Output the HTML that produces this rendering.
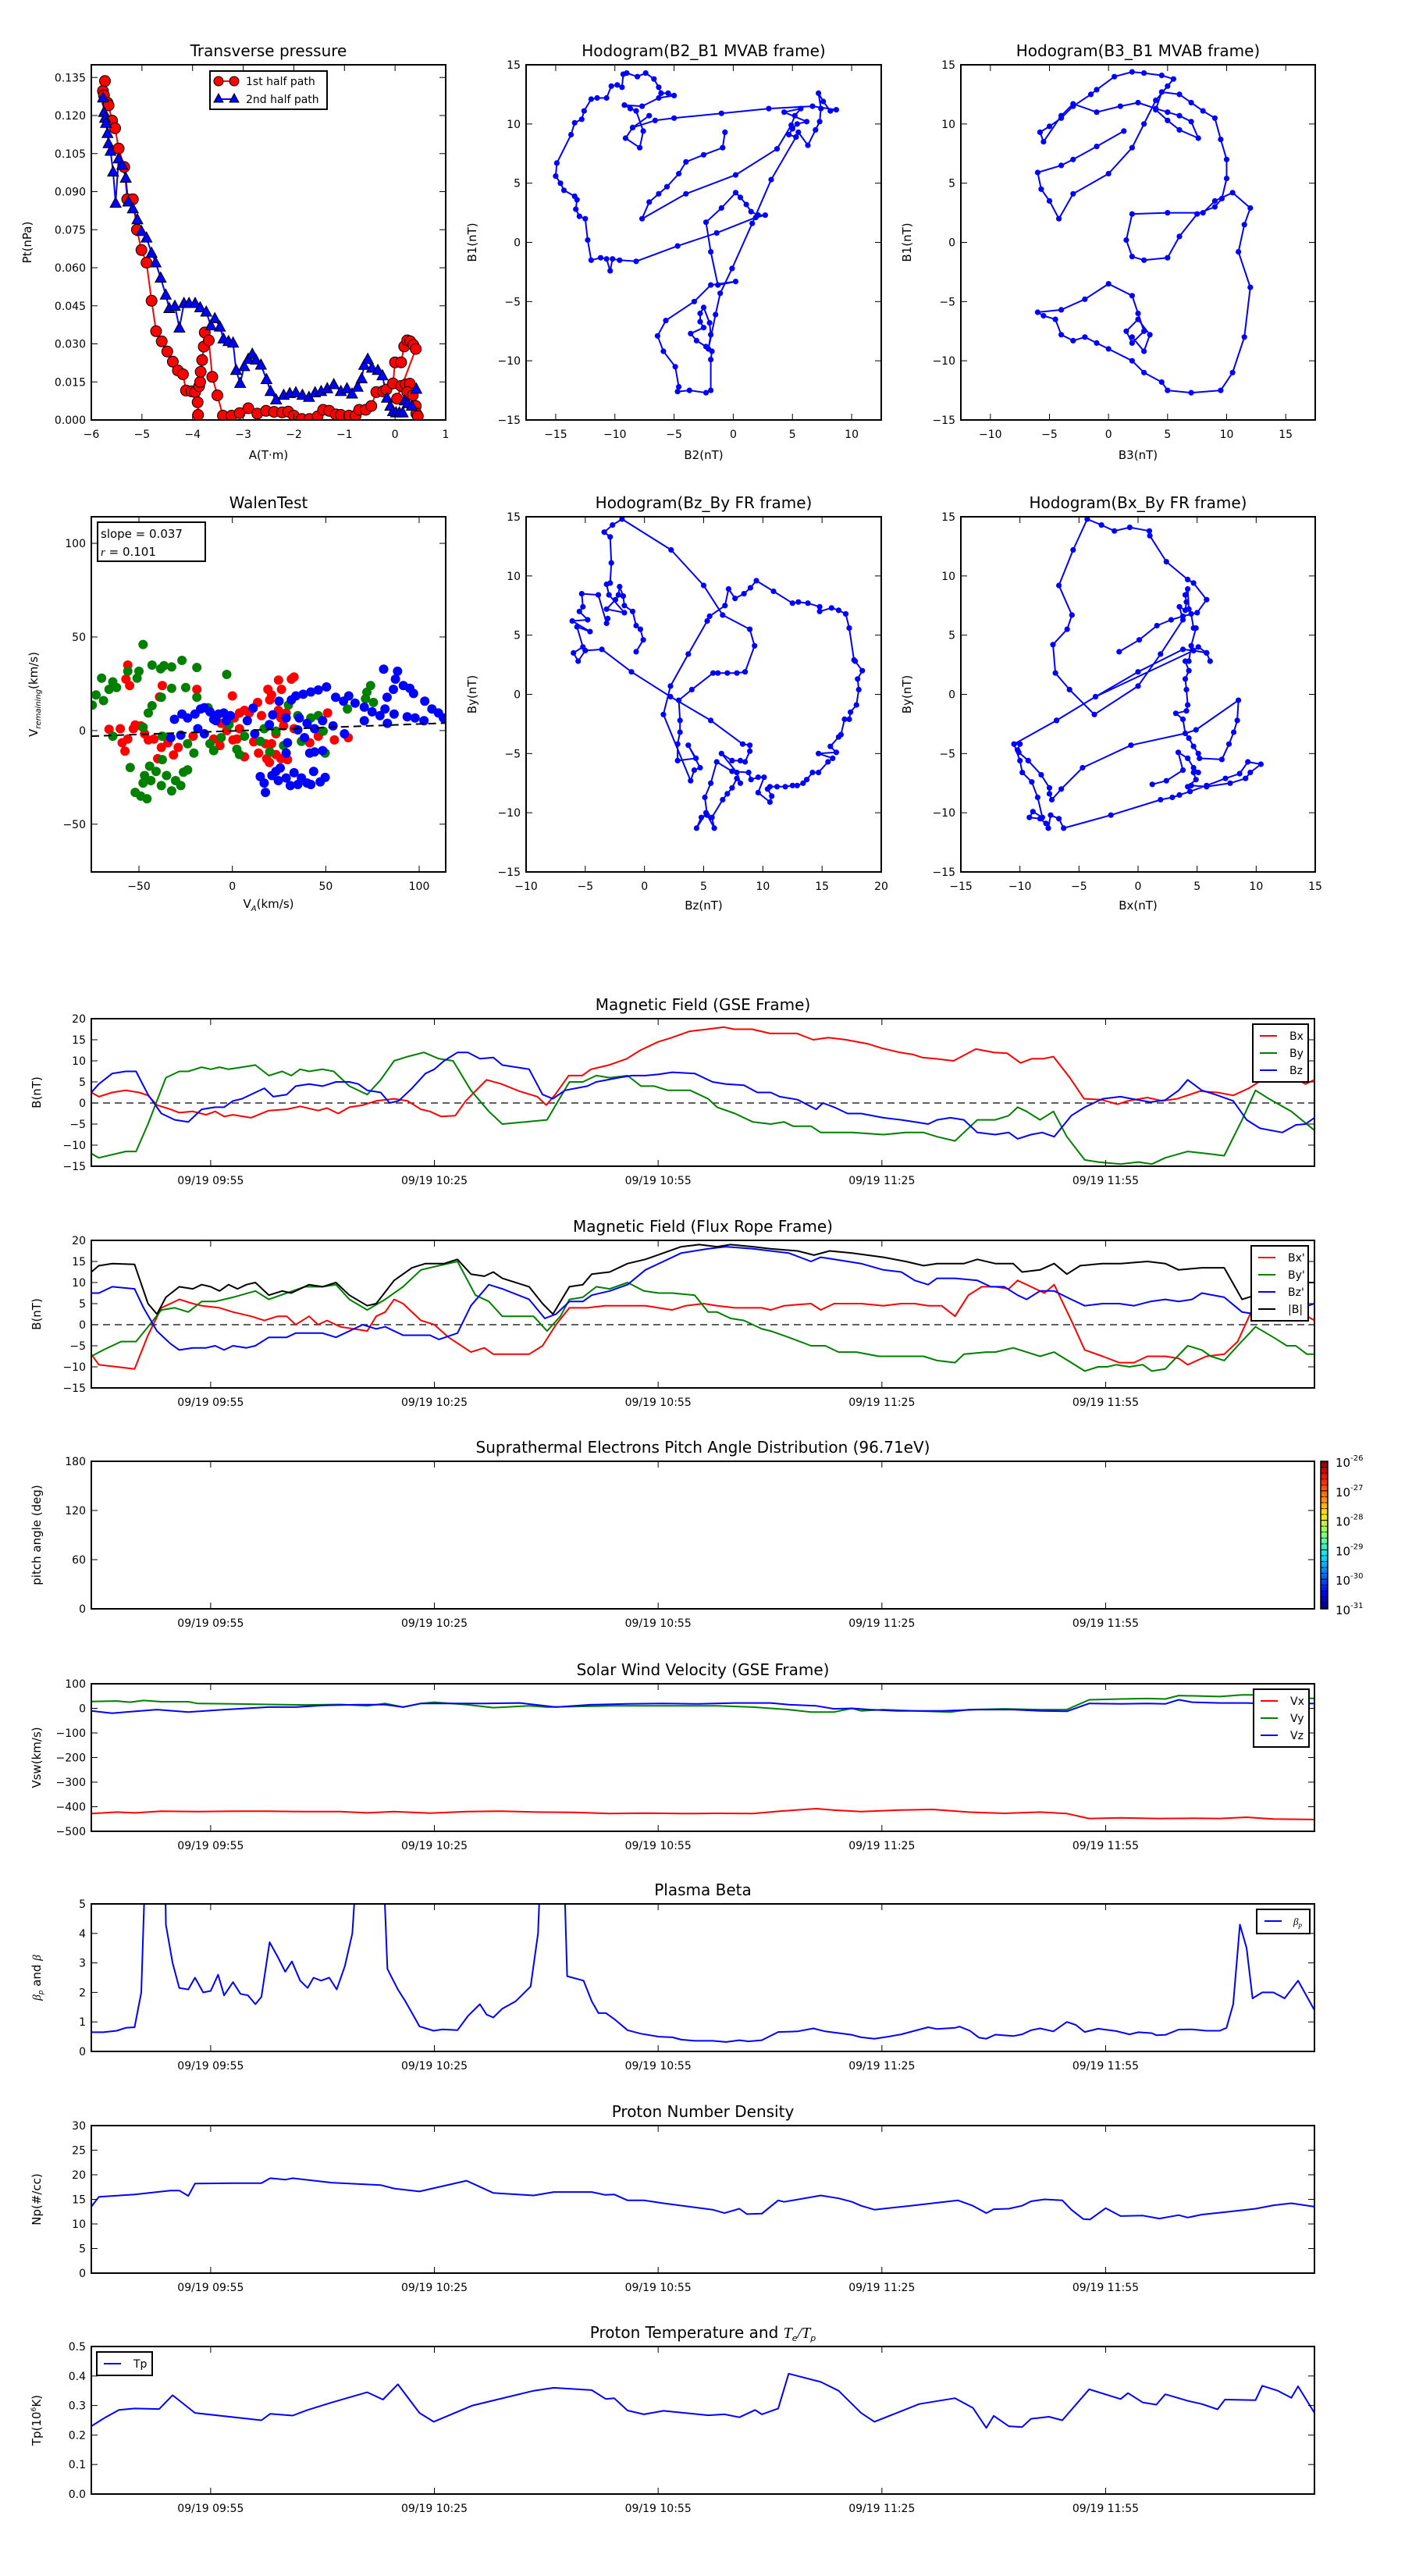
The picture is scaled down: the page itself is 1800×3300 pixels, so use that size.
<!DOCTYPE html>
<html><head><meta charset="utf-8"><title>Flux rope event summary</title>
<style>
html,body{margin:0;padding:0;background:#fff;}
svg{display:block;font-family:"DejaVu Sans","Liberation Sans",sans-serif;}
text{fill:#000;}
</style></head>
<body>
<svg id="chart" xmlns="http://www.w3.org/2000/svg" width="1800" height="3300" viewBox="0 0 1800 3300">
<defs id="defs">
<linearGradient id="jet" x1="0" y1="1" x2="0" y2="0">
<stop offset="0" stop-color="#00007f"/><stop offset="0.11" stop-color="#0000ff"/><stop offset="0.36" stop-color="#00e5ff"/><stop offset="0.5" stop-color="#7dff7a"/><stop offset="0.64" stop-color="#ffe600"/><stop offset="0.89" stop-color="#ff1400"/><stop offset="1" stop-color="#7f0000"/>
</linearGradient>
</defs>
<rect x="0" y="0" width="1800" height="3300" fill="#fff"/>
</svg>
<script>
// ---------------- DATA ----------------
const pt1A=[-5.77,-5.73,-5.75,-5.68,-5.66,-5.59,-5.53,-5.46,-5.35,-5.29,-5.18,-5.10,-5.01,-4.91,-4.81,-4.72,-4.61,-4.50,-4.39,-4.29,-4.19,-4.13,-4.02,-3.95,-3.90,-3.89,-3.87,-3.85,-3.84,-3.81,-3.78,-3.76,-3.68,-3.61,-3.51,-3.40,-3.23,-3.07,-2.90,-2.72,-2.55,-2.39,-2.23,-2.11,-2.00,-1.84,-1.69,-1.53,-1.42,-1.30,-1.17,-1.07,-0.91,-0.78,-0.71,-0.58,-0.47,-0.37,-0.24,-0.17,-0.04,0.00,0.12,0.18,0.24,0.30,0.36,0.41,0.04,0.12,0.21,0.29,0.24,0.35,0.41,0.42,0.45];
const pt1P=[0.1297,0.1336,0.128,0.125,0.124,0.118,0.115,0.107,0.0997,0.087,0.087,0.075,0.067,0.062,0.047,0.035,0.031,0.027,0.023,0.0195,0.018,0.0116,0.0113,0.011,0.007,0.002,0.0133,0.015,0.019,0.0236,0.0289,0.0345,0.0314,0.017,0.0097,0.0017,0.0017,0.0027,0.0046,0.0025,0.0036,0.0032,0.003,0.0033,0.0017,0.0004,0.0004,0.0014,0.004,0.0036,0.0022,0.002,0.0017,0.0017,0.004,0.004,0.0055,0.011,0.0113,0.012,0.0144,0.0227,0.0227,0.029,0.0314,0.031,0.0296,0.028,0.0084,0.0134,0.014,0.0143,0.011,0.0097,0.0055,0.0025,0.0015];
const pt2A=[-5.77,-5.75,-5.73,-5.71,-5.68,-5.66,-5.62,-5.57,-5.52,-5.46,-5.39,-5.32,-5.27,-5.18,-5.09,-5.01,-4.91,-4.81,-4.73,-4.63,-4.53,-4.46,-4.35,-4.26,-4.17,-4.07,-3.95,-3.85,-3.73,-3.64,-3.56,-3.46,-3.39,-3.29,-3.20,-3.14,-3.06,-2.98,-2.90,-2.82,-2.75,-2.65,-2.54,-2.46,-2.35,-2.20,-2.08,-1.96,-1.83,-1.70,-1.58,-1.46,-1.34,-1.21,-1.07,-0.95,-0.85,-0.74,-0.66,-0.61,-0.54,-0.455,-0.34,-0.25,-0.16,-0.095,-0.04,0.02,0.085,0.15,0.19,0.25,0.33,0.42];
const pt2P=[0.127,0.1213,0.119,0.117,0.113,0.109,0.106,0.0978,0.0855,0.103,0.1005,0.0954,0.086,0.0833,0.079,0.0744,0.0718,0.0658,0.062,0.056,0.0493,0.044,0.0449,0.0363,0.046,0.046,0.046,0.0443,0.0426,0.0372,0.04,0.0367,0.032,0.031,0.0304,0.0196,0.0145,0.0211,0.024,0.026,0.0237,0.0217,0.016,0.0113,0.008,0.0098,0.0105,0.0108,0.0098,0.009,0.0108,0.0113,0.0124,0.014,0.0113,0.0124,0.0103,0.013,0.0163,0.0216,0.024,0.0205,0.0196,0.0175,0.0087,0.0055,0.0034,0.0029,0.0029,0.0029,0.0076,0.0065,0.0055,0.0122];

const h1B2=[-0.7,-0.9,-2.5,-4.0,-4.6,-5.6,-6.3,-7.1,-7.7,-4.0,0.2,3.7,4.9,5.2,5.7,4.3,6.2,5.4,5.0,4.7,5.3,5.5,6.3,6.95,7.3,7.4,7.2,7.6,8.2,8.7,6.7,3.0,-1.0,-5.0,-6.6,-8.5,-7.1,-8.5,-9.1,-7.9,-7.6,-8.2,-8.7,-9.2,-7.7,-6.3,-5.0,-5.5,-6.1,-6.3,-6.7,-7.4,-8.1,-9.0,-9.3,-9.4,-9.8,-10.3,-10.7,-11.5,-12.0,-12.6,-12.8,-13.4,-13.7,-14.9,-15.0,-14.6,-14.3,-13.4,-13.2,-13.3,-13.0,-12.5,-12.3,-12.0,-11.2,-10.7,-10.4,-10.2,-9.6,-8.2,-4.7,-1.4,1.9,2.7,2.1,1.5,1.1,0.6,0.2,-1.0,-2.3,-1.9,-1.3,0.2,-1.9,-3.3,-5.7,-6.4,-5.9,-4.9,-4.6,-4.7,-3.7,-2.3,-1.9,-1.9,-1.8,-2.3,-3.1,-3.6,-2.5,-2.8,-2.8,-2.5,-2.0,-1.9,-2.1,-1.5,-1.1,-0.1,1.6,3.2,5.3];
const h1B1=[9.3,8.0,7.4,6.8,5.8,4.7,4.1,3.4,2.0,4.1,5.7,7.9,9.9,10.7,11.3,11.0,10.2,10.0,9.6,9.1,8.9,9.3,8.2,9.5,10.2,11.3,12.6,11.9,11.1,11.2,11.5,11.3,10.9,10.5,10.3,9.7,10.7,9.7,8.8,8.0,9.4,11.1,11.3,11.6,11.5,12.2,12.4,12.6,12.6,13.1,13.8,14.3,14.0,14.3,14.2,13.1,13.3,13.2,12.2,12.2,12.1,11.1,10.4,10.1,9.1,6.7,5.6,5.0,4.4,3.9,3.6,2.8,2.2,2.0,0.2,-1.5,-1.3,-1.4,-2.4,-1.4,-1.5,-1.6,-0.3,0.8,2.1,2.3,2.3,2.6,3.2,3.8,4.2,2.9,1.7,-0.8,-3.6,-3.3,-3.6,-5.0,-6.6,-7.9,-9.2,-10.5,-12.2,-12.6,-12.5,-12.7,-12.5,-9.9,-9.2,-8.8,-8.3,-7.7,-7.2,-6.7,-6.0,-5.5,-6.8,-7.8,-9.0,-6.1,-4.3,-2.2,1.6,5.3,8.9];

const h3B3=[1.3,-1.0,-3.0,-4.0,-6.0,-5.7,-5.0,-4.2,-3.0,0.0,2.0,3.0,4.0,5.0,5.5,4.5,3.0,2.0,0.5,-1.0,-1.5,-3.0,-4.0,-5.0,-5.8,-5.5,-4.0,-3.0,-1.0,1.0,2.5,4.0,5.0,6.0,7.0,7.6,6.0,5.0,4.0,4.5,6.0,7.0,8.0,9.0,9.5,10.0,10.0,9.6,9.0,7.5,6.0,5.0,3.0,2.0,1.5,2.0,5.0,8.0,9.0,10.5,12.0,11.5,11.0,12.0,11.5,10.5,9.5,7.0,5.0,4.5,3.0,2.0,0.0,-1.0,-2.0,-3.0,-4.0,-4.5,-5.5,-6.0,-4.0,-2.0,0.0,2.0,2.5,3.0,2.0,1.5,2.5,3.5,3.0,2.0];
const h3B1=[9.4,8.1,7.0,6.5,5.9,4.5,3.5,2.0,4.1,5.8,8.0,10.0,12.0,13.2,13.8,14.1,14.3,14.4,14.0,12.9,12.5,11.5,10.5,9.8,9.3,8.5,10.7,11.7,11.0,11.5,11.8,11.3,11.0,10.7,10.2,8.8,9.5,10.3,11.2,12.7,12.5,11.8,11.1,10.5,8.7,7.0,5.4,3.7,3.0,2.4,0.5,-1.3,-1.5,-1.2,0.2,2.4,2.5,2.5,3.5,4.2,2.9,1.5,-0.8,-3.8,-8.0,-11.0,-12.5,-12.7,-12.5,-11.8,-11.0,-10.0,-9.0,-8.5,-8.0,-8.3,-7.8,-6.5,-6.2,-5.9,-5.7,-4.8,-3.5,-4.5,-6.0,-7.5,-8.5,-7.5,-6.5,-7.8,-9.2,-8.0];

const walRedX=[-66,-60,-57.5,-59,-56,-53,-52,-49,-47,-45,-42,-40,-38,-39,-37.5,-56,-57,-55,-34.5,-31.5,-29,-21,-19,-10,-6.7,-3,0,0.3,1,3.8,6.5,9,11.4,13.5,14,15.6,17.7,19,20,21,24.7,26.3,24.6,26,27.4,23.3,21,18.4,19.8,23.3,26,29.5,31.6,33,28.8,33,41.4,46,51,54.6,62,6.5,3.8,2.4,-6];
const walRedY=[0.7,1,-11,-6.5,-4.5,1,3,2.5,-1.7,-5,-4.5,-15,-9,18,24,35,27.5,24,-6.5,-13,-9,-3,22,-4.5,-8,0,18.5,-5,6.7,9.4,10.8,9.4,-6,15,-12,8,-7,22,16.4,19,27,22,10.8,6.7,2.5,-1.7,-7,-15,-17,-12.8,-15,-15.5,27.5,28.6,9.4,1,-6.5,-3,9.4,-5,-3.8,-14,1,-4.5,3.9];
const walGreenX=[-75,-73,-70,-69,-66,-64,-62,-64,-56,-51,-50,-47.8,-43,-38.4,-36.6,-32.5,-27,-19,-3,-38,-32.5,-25,-19,-43,-45,-47.8,-37.5,-37.5,-54.7,-44.3,-47,-47.8,-52,-49,-45.7,-43.6,-40.8,-38,-35.2,-32.5,-30.4,-27.6,-26.2,-24,-20.6,-24,-13,-12,-10,-6,-1.8,2.4,3.8,6.5,15,17,20,23.3,27.4,30,35,37,42,46,48.6,49.7,61.6,71.3,74,72,75.5];
const walGreenY=[13.6,19,28,16,22,26,23,-3,31.7,28,31.7,46,35,33,34.7,34,37.5,33.7,30,17.8,22.6,23,17.8,13.3,9.4,1.8,-3,-15.5,-19.7,-19,-24,-28,-33,-35,-36.4,-26.7,-21.8,-29.4,-24,-32.2,-26.7,-29.4,-22.2,-21,-12,-7,12.2,-7,-10.7,-3.8,3.2,-10,-12.8,-3,-5.8,1,-11.4,-0.3,-8,13.6,8,-5.8,6.7,8,-0.3,-12,11.5,17,24,20.5,15];
const walBlueX=[-33,-31,-27.6,-27,-24,-20,-17,-15,-15,-18.5,-12,-10,-7.4,-4.6,-1.1,-3.2,-8.8,8,11.1,12,19.8,21.6,25,28.8,29.5,28.8,31.6,34,37.9,42,46,50.4,55.3,59.5,62.3,65.7,70.6,74.8,79,83,81,82.8,81.7,86.6,86.2,87.3,88.4,91.5,95,97,93.6,97.8,102.6,103,106.8,110.3,113,70.6,35.8,40,44,48.3,53.9,60,35,38.6,41.4,44,48.3,14.9,17,17.7,21.2,23.3,25.6,24.6,28.8,31,33,35,37,40,42,43.5,47,49.7];
const walBlueY=[-3.8,6,-2.4,8.8,6.7,8.8,11.5,12.2,-1.7,1,10,6,8.8,9.4,8,5.3,5.3,5.3,12,-1.7,3.2,8.4,15.7,6.7,-6.5,-12,16.4,18.5,19.4,20.6,21.7,23.3,17.8,15.7,18.5,14.7,12.5,10,8,3.9,32.8,17.8,11.5,8.8,22,27.5,31.7,24,22.6,19.8,7.4,6.7,5.3,15.7,11.5,9.4,6.7,5.3,6.7,3.9,1,5.3,2.5,-1.7,0.4,-3.8,-12,-11.4,-10.7,-24.6,-28,-33,-24,-21.8,-20,-26.7,-25.3,-29.4,-22.5,-28.8,-25.3,-28,-28.8,-21.8,-27.4,-25];
const walSlope=0.037, walIntercept=-0.2, walR=0.101;

const hzBz=[-0.7,-0.1,-0.35,-0.7,-1.0,-1.7,-1.8,-2.1,-2.2,-2.45,-3.2,-1.7,-3.0,-3.2,-2.9,-2.8,-2.9,-3.4,-2.7,-1.9,2.25,5,6.6,8.9,9.3,8.5,7.8,7.0,6.2,5.8,4.0,2.9,3.0,3.0,2.8,2.8,4.35,3.7,4.7,4.2,3.9,1.6,2.2,3.7,5.3,5.5,6.8,7.1,7.65,8.4,8.95,9.45,10.9,12.5,13.0,13.8,14.8,14.8,15.8,16.4,17.0,17.3,17.7,17.8,18.4,18.0,18.1,17.9,17.4,17.3,16.9,16.6,16.4,15.7,16.2,14.7,15.9,15.5,14.7,14.2,13.7,13.4,12.9,12.5,11.9,11.2,10.6,10.4,10.75,10.6,9.6,10.1,9.6,9.0,8.8,7.4,6.1,5.6,5.1,5.3,4.8,4.4,5.2,5.9,5.7,6.6,7.0,7.4,7.8,8.1,7.8,6.5,7.4,8.1,8.5,8.9,8.9,8.3,5.6,2.2,-1.1,-3.6,-5.0,-5.6,-6.0,-5.2,-5.7,-4.6,-6.1,-4.8,-5.5,-5.2,-5.3,-3.9,-3.2,-3.1];
const hzBy=[3.6,4.6,5.5,5.8,7.0,7.5,8.3,9.1,8.4,8.0,7.2,6.9,8.4,9.3,9.4,11.1,13.3,13.7,14.3,14.8,12.2,9.2,6.7,5.5,4.1,1.9,1.8,1.8,1.8,1.8,0.4,-0.5,-2.2,-3.2,-4.2,-5.6,-5.4,-4.3,-6.2,-6.4,-7.3,-1.7,0.7,3.4,6.2,6.6,7.5,8.9,8.1,8.5,9.0,9.6,8.7,7.7,7.8,7.7,7.4,7.0,7.3,7.1,6.8,5.6,2.9,2.8,2.0,1.3,0.4,-0.9,-1.5,-2.1,-2.1,-3.4,-3.6,-4.4,-4.9,-5.0,-5.4,-5.7,-6.6,-6.6,-7.2,-7.5,-7.7,-7.7,-7.8,-7.8,-7.8,-8.0,-8.6,-9.1,-8.3,-7.0,-7.0,-7.2,-6.6,-6.5,-5.7,-7.5,-8.7,-10.2,-10.4,-11.3,-10.0,-11.3,-10.4,-8.9,-8.4,-7.9,-7.1,-7.5,-6.6,-5.0,-5.6,-5.6,-5.7,-4.8,-4.3,-4.2,-2.2,-0.2,1.9,3.8,3.7,2.8,3.5,4.0,5.7,5.3,6.2,6.3,7.0,7.4,8.5,8.4,6.0,6.4];

const hxBx=[-1.6,0.1,1.6,2.8,3.8,5.0,5.8,4.7,4.2,2.4,1.0,0.96,-0.7,-2.0,-3.1,-4.3,-5.5,-6.7,-5.6,-6.0,-7.2,-7.0,-5.8,-3.7,0.0,1.9,3.8,3.5,4.0,4.1,4.0,4.2,4.3,4.5,4.7,4.9,4.5,4.3,4.0,4.3,4.0,4.1,4.2,4.1,3.2,3.8,4.0,4.3,4.7,5.1,5.2,7.1,7.7,8.1,8.4,8.5,4.9,4.0,-0.6,-4.7,-6.5,-7.3,-7.5,-7.5,-8.2,-9.3,-10.1,-10.2,-10.0,-10.5,-6.9,-3.6,0.0,3.8,4.7,5.1,5.8,6.1,5.8,4.7,-3.6,-6.9,-10.5,-10.0,-9.8,-9.0,-8.5,-8.1,-8.9,-9.2,-8.3,-7.8,-7.6,-7.4,-6.7,-6.3,-2.3,1.9,2.9,3.5,4.4,5.8,7.4,8.6,9.3,10.4,9.5,9.1,7.8,5.8,4.5,4.2,4.9,4.7,5.1,4.7,4.2,3.4,3.8,2.4,1.2];
const hxBy=[3.6,4.6,5.8,6.3,6.6,6.9,8.0,9.4,9.7,11.2,13.4,13.8,14.1,13.8,14.3,14.8,12.2,9.2,6.7,5.5,4.2,1.8,0.4,-1.7,0.7,3.4,6.3,7.4,7.1,7.8,8.4,8.9,7.2,6.8,5.6,5.6,4.1,2.8,2.8,2.0,1.3,0.4,-0.9,-1.4,-1.6,-2.1,-3.3,-3.7,-4.4,-5.0,-5.4,-5.5,-4.2,-3.2,-2.2,-0.5,-3.0,-3.3,-4.3,-6.2,-8.0,-8.9,-8.4,-7.9,-6.8,-5.6,-4.9,-4.7,-4.2,-4.2,-2.2,-0.2,1.9,3.8,3.7,4.0,3.5,2.8,3.5,3.7,-0.2,-2.2,-4.2,-5.6,-6.6,-7.4,-8.7,-10.4,-9.9,-10.4,-10.5,-10.9,-11.3,-10.2,-10.5,-11.3,-10.2,-8.9,-8.7,-8.5,-8.2,-7.7,-7.1,-6.7,-5.7,-5.9,-6.6,-7.1,-7.5,-7.8,-7.7,-7.8,-7.2,-6.6,-6.6,-6.2,-5.4,-4.9,-6.4,-7.3,-7.6];

const tLabels=['09/19 09:55','09/19 10:25','09/19 10:55','09/19 11:25','09/19 11:55'];
const tTicks=[16,46,76,106,136];

const gseBxT=[0,1,2.8,4.6,6.4,7.6,8.8,10.6,11.8,13.6,15.4,16.6,17.8,19,21.4,23.8,26.2,28,30.4,31.6,33.1,34.6,36.4,38.2,40.6,42.4,44.2,45.4,46.9,48.8,50.2,53,55,57.4,59.8,61,62.2,64,65.8,67,69.4,71.8,73.6,76,77.8,80.2,82.6,84.8,86.2,88.6,91,94.6,96.8,98.8,101.2,104.2,106,108.4,110.2,111.4,113.2,115.6,118.6,121,122.8,124.6,126.1,127.6,129,131.2,133.1,135.4,137.6,139,141.6,143.6,145.6,148.6,151,153.1,155.2,157,159.2,161.2,162.8,164];
const gseBxV=[2.5,1.5,2.5,3,2.5,1.8,-0.5,-1.5,-2.3,-2,-2.8,-2,-3.2,-2.8,-3.5,-1.8,-1.5,-0.8,-1.8,-1.2,-2.5,-1,-0.5,0.5,1,0.5,-1.5,-2,-3.2,-3,0.5,5.5,4.5,2.8,1.5,-0.5,2,6.5,6.5,8,9,10.5,12.5,14.5,15.5,17,17.5,18,17.5,17.5,16.5,16.5,15,15.5,15,14,13,12,11.5,10.8,10.5,10,12.8,12,11.8,9.5,10.5,10.5,11,6,1,0.8,-0.3,0.5,1.3,0.5,1,2.8,2.5,1.8,3.5,5.5,6,6,4.5,5.5];
const gseByT=[0,1,4.6,6,7.6,10,11.8,13,14.8,16,17.2,18.4,20.2,22,23.8,25.6,26.8,28,29.2,31,32.5,34.6,37,38.8,40.6,42.4,44.6,46.6,48.5,50.9,53.3,55.1,61.1,64.1,65.9,67.7,69.5,71.9,73.7,75.5,77.3,80.3,82.7,83.9,86.3,88.7,91.1,92.9,94.1,96.5,97.8,102,106.2,109.2,111.6,113.4,115.8,117,118.8,121.2,123,124.2,125.4,127.2,129,130.8,133.2,135,138,140.4,142.2,144,147,149.5,151.9,154.3,156.1,157.9,160.9,164];
const gseByV=[-12,-13,-11.5,-11.5,-5,6,7.5,7.5,8.5,8,8.5,8,8.5,9,6.5,7.5,6.5,8,7.5,8,7.5,4,2,5.5,10,11,12,10.5,10,3,-2,-5,-4,5,5,6.5,6,6.5,4,4,3,3,1,-1,-2.5,-4.5,-5,-4.5,-5.5,-5.5,-7,-7,-7.5,-7,-7,-8,-9,-7,-4,-4,-3,-1,-2,-4,-2,-8,-13.5,-14,-14.5,-14,-14.5,-13,-11.5,-12,-12.5,-4,3,1,-2,-6.5];
const gseBzT=[0,1,2.8,4.6,6,7.6,9.4,11.2,13,14.8,16.6,17.8,19,20.2,22,23.2,24.4,26.2,27.4,29.2,31,32.8,34.6,35.8,37,38.8,40,41.2,43,44.8,46,47.3,49.1,50.5,52.1,53.9,55.1,58.7,60.5,61.9,63.5,66.5,67.7,70.7,72.5,74.3,76.1,77.9,80.9,83.3,85.1,87.5,89.3,91.1,92.3,94.7,97.2,98.1,99.6,101.4,103.2,106.2,108.6,110.4,112.2,113.4,115.2,117,118.8,121.2,123,124.2,126,127.5,129.1,131.4,133.2,135.6,138,139.5,142,144,145.8,147,148.9,150.7,153.1,154.9,156.7,159.7,161.5,162.8,164];
const gseBzV=[2.5,4.5,7,7.5,7.5,2,-2.5,-4,-4.5,-1.5,-1,-1,0.5,1,2.5,3.5,1.5,2,4,4.5,4,5,5,4.5,3,2.5,0,0.5,3.5,7,8,10,12,12,10.5,10.8,9,8,2,1,3,4,5,6,6.5,6.5,6.8,7.3,7,5,4.5,4.2,2.5,2.5,1.5,0.8,-1.5,0,-1,-2.5,-2.5,-3.5,-4,-4.5,-5,-4,-3.5,-4,-7,-7.5,-7,-8.5,-7.5,-7,-8,-3,-1,1,1.5,1,0.2,0.7,3,5.5,3,2,0.5,-4,-6,-7,-5.2,-5,-3.5];

const frBmT=[0,1,2.8,5.8,7.6,8.8,10,11.8,13.6,14.8,16,17.2,18.4,19.6,20.8,22,23.8,25.6,26.8,29.2,31,32.8,34.6,37,38.2,40.6,43,44.8,47.3,49.1,50.9,52.7,53.9,55.1,58.7,60.5,61.9,64.1,65.9,67.1,69.5,71.9,74.3,76.7,79.1,81.5,83.9,85.7,88.7,91.1,94.7,96.9,99,102,106.2,109.2,111.6,113.4,117,118.8,121.2,123.6,124.8,127.2,129.1,130.8,132.6,135.6,138,141.6,144,145.8,148.9,151.9,154.3,156.1,158.5,161.5,163,164];
const frBmV=[12.5,14,14.5,14.3,5,2.5,6.5,9,8.5,9.5,9,8,9.5,8.5,9.5,10,7,8,7.5,9.5,9,10,7,4.5,5,10.5,13.5,14.5,14.5,15.5,12,11.5,12.5,11,9,5,2.5,9,9.5,12,12.5,14.5,15.5,17,18.5,19,18.5,19,18.5,18,17.5,16.5,17.5,17,16,15,14,14.5,14.5,15.5,14.5,14.5,12.5,13,14.5,12,14,14.5,14.5,15,14.5,13,13.5,13.5,6,7,8,9,10,10];
const frBxT=[0,1,3.4,5.8,7.6,9.4,11.8,13.6,14.8,17.2,19,21.4,23.2,25,26.2,27.4,29.2,30.4,31.6,33.4,35.2,37,38.2,39.4,40.6,41.8,44.2,46,47.9,50.9,52.7,53.9,58.7,60.5,62.3,64.1,66.5,68.9,71.9,74.3,77.9,79.7,82.1,83.9,86.3,89.9,91.1,92.9,96.5,97.8,99.6,103.2,106.2,108.6,110.4,112.2,114,115.8,117.6,119.4,121.2,123,124.2,126,127.8,129.1,131.4,133.2,135.6,137.8,139.8,141.6,144,145.8,147,149.5,151.9,153.7,155.5,157.3,159.7,162.1,164];
const frBxV=[-7,-9.5,-10,-10.5,-2.5,4,6,5,4.5,4,3,2,1,2,2,0,2,0,1,-0.5,-1,-1.5,2,3,6,5,1,0,-3,-6.5,-5.5,-7,-7,-5,0,4,4,4.5,4.5,4.5,3.5,4.5,5,4.5,4,4,3.5,4.5,5,3.5,5,5,4.5,5,5,4.5,4.5,2,7,9,9,8.5,10.5,9,7.5,9.5,1,-6,-7.5,-9,-9,-7.5,-7.5,-8,-9.5,-7.5,-7,-4,3,7,5.5,3,1];
const frByT=[0,1.6,4,6,7.6,9.4,11.2,13,14.8,16.6,19,22,23.8,26.2,28.6,31,32.8,34.6,37,39.4,41.8,44.2,46.6,49.1,51.5,53.3,55.1,59.3,61.1,62.9,64.1,65.9,67.7,69.5,71.9,74.1,76.1,77.9,80.9,82.7,83.9,85.7,87.5,89.9,91.1,93.5,96.5,98.4,100.2,102.6,105.6,109.2,111.6,113.4,115.8,117,120,121.2,123.6,125.4,127.2,129.1,131.4,133.2,135,136.2,137.4,139.2,141,142.2,144,147,148.9,150.1,151.9,153.7,156.1,158.5,160.3,161.5,163,164];
const frByV=[-7.5,-6,-4,-4,-0.5,3.5,4,3,5.5,5.5,6.5,8,6,7.5,9,9,9.5,6,3.5,6,9,13,14,15,7,5.5,2,2,-1.5,2,6,6.5,9,8.5,10,8,7.5,7.5,7,3,3,1.5,1,-1,-1.5,-3,-5,-5,-6.5,-6.5,-7.5,-7.5,-7.5,-8.5,-9,-7,-6.5,-6.5,-5.5,-6.5,-7.5,-6.5,-9,-11,-10,-10,-9.5,-10,-9.5,-11,-10.5,-5,-6,-7.5,-8.5,-5,-0.5,-3,-5,-5,-7,-7];
const frBzT=[0,1,2.8,5.8,7,8.8,10.6,11.8,13.6,15.4,16.6,17.8,19,20.8,22,23.8,26.2,27.4,31,32.8,34.6,36.4,38.2,39.4,41.8,44.2,45.4,46.6,49.1,50.9,53.3,55.1,58.7,60.8,62.3,64.1,65.9,67.1,69.5,71.9,74.3,76.7,79.1,82.7,85.1,88.7,91.1,93.5,96.5,97.8,99.6,103.2,106.2,108.6,110.4,112.2,113.4,115.8,118.8,120.6,122.4,124.2,125.4,127.2,129.1,131.4,133.2,135.6,137.8,139.8,142,144,145.8,147.6,148.9,151.9,154.3,156.1,158.5,161.5,164];
const frBzV=[7.5,7.5,9,8.5,4,-1.5,-4.5,-6,-5.5,-5.5,-5,-6,-5,-5.5,-5,-3,-3,-2,-2,-3,-1.5,0,-1,-0.5,-2.5,-2.5,-2.5,-3.5,-2,4.5,9.5,8.5,6,1.5,2.5,5.5,5.5,7,8,9.5,13,15,17,18,18.5,18,17.5,17,15,16,15.5,14.5,13,12.5,10.5,9.5,11,11,10.5,9,9,7,6,8,8,6,4.5,5,5,4.5,5.5,6,5.5,6,7.5,6.5,3,2.5,2,3.5,5];

const vxT=[0,3.4,5.8,9.4,14.2,19,23.8,28.6,33.4,37,40.6,45.4,50.3,55.1,59.9,64.7,69.5,74.3,79.1,83.9,88.7,92.3,97.2,99.6,103.2,108,112.8,117.6,122.4,127.2,130.8,133.8,138,142.8,147.6,151.3,154.9,158.5,164];
const vxV=[-428,-422,-425,-418,-420,-418,-418,-420,-420,-425,-420,-426,-420,-418,-422,-423,-428,-426,-428,-427,-428,-418,-408,-414,-420,-414,-411,-422,-427,-422,-428,-448,-445,-448,-447,-448,-443,-450,-452];
const vyT=[0,3.4,5.2,7,9.4,13,14.2,19,23.8,28.6,33.4,37,39.4,41.8,44.2,46,50.3,53.9,58.7,61.1,65.9,69.5,74.3,79.1,83.9,88.7,93.5,96.5,99.6,102,103.2,106.2,110.4,115.2,117.6,122.4,127.2,130.8,133.8,138,141.6,144,145.8,148.9,151.3,154.3,157.3,160.9,164];
const vyV=[28,30,25,32,27,27,20,18,16,14,16,10,20,5,20,25,15,3,10,5,8,10,10,10,10,5,-5,-15,-15,0,-10,-5,-10,-15,-5,-2,-5,-5,35,38,40,38,52,50,48,55,55,45,40];
const vzT=[0,2.8,4.6,8.8,13,17.8,23.8,27.4,31,35.8,39.4,41.8,44.2,47.9,52.7,57.5,62.3,67.1,71.9,76.7,81.5,86.3,91.1,93.5,97.2,99.6,102,104.4,108,114,118.8,123.6,127.2,130.8,133.8,138,141.6,144,145.8,147.6,151.3,154.9,158.5,164];
const vzV=[-10,-20,-15,-5,-15,-5,5,5,12,15,15,5,20,20,20,22,5,15,18,20,18,22,22,15,10,-2,0,-5,-10,-10,-5,-5,-10,-12,20,18,20,18,35,25,22,22,18,20];

const betaT=[0,1.6,3.4,4.6,5.8,6.7,7.2,9.9,10,10.9,11.8,13,13.9,15,16,17,17.8,19,20,21,22,22.8,23.9,25,26,26.9,28,29,29.8,30.8,31.9,32.9,34,35,35.5,39.2,39.7,41.1,42.1,43,44,45.9,47.1,49.1,50.5,52.1,53,53.9,55.1,56.9,58.9,59.9,60.2,63.4,63.8,66,67.1,68,69,70.1,71.9,73.7,76.1,77.9,79.1,80.9,83.3,85.1,86.9,88.1,89.9,92.1,94.7,96.8,98.4,102,103.2,105,106.8,108.6,110.4,112.2,113.4,115.8,116.4,117.8,119,120,121.2,123.6,124.8,126,127.2,129,130.8,132,133.2,135,137.4,139.2,140.4,142.2,142.8,144,145.8,147.6,149.5,151.3,152.2,153.1,154,154.9,155.7,157,158.5,160,161.8,164];
const betaV=[0.65,0.65,0.7,0.8,0.82,2,6,6,4.3,3,2.15,2.1,2.5,2,2.05,2.6,1.9,2.35,1.95,1.9,1.6,1.85,3.7,3.2,2.7,3.05,2.4,2.15,2.5,2.4,2.5,2.1,2.9,4,6,6,2.8,2.1,1.7,1.3,0.85,0.7,0.75,0.72,1.2,1.6,1.25,1.15,1.45,1.7,2.2,4,6,6,2.55,2.4,1.7,1.3,1.3,1.1,0.72,0.6,0.5,0.48,0.4,0.36,0.36,0.32,0.38,0.34,0.38,0.66,0.68,0.78,0.68,0.56,0.48,0.43,0.5,0.58,0.7,0.82,0.76,0.8,0.84,0.7,0.47,0.43,0.57,0.52,0.58,0.72,0.78,0.68,1,0.9,0.66,0.77,0.69,0.58,0.65,0.62,0.55,0.56,0.74,0.75,0.7,0.7,0.8,1.6,4.3,3.5,1.8,2,2,1.8,2.4,1.4];

const npT=[0,1,5.8,10.6,11.8,13,13.9,19,22.8,24,26,27,32.2,38.8,40.6,44,50.3,53.9,59.3,62,67.1,68.9,70.1,71.9,74.1,76.7,83.3,84.9,86.9,87.9,89.9,92.1,92.9,97.8,100.2,102,103.2,105,110.4,116.2,118.2,120,121,123,124.8,126,127.8,130.2,131.4,133,133.9,136,138,141,143.2,145.8,147,148.9,152,156.1,158.5,160.9,164];
const npV=[13.5,15.5,16,16.8,16.8,15.7,18.2,18.3,18.3,19.3,19,19.3,18.4,17.9,17.2,16.6,18.8,16.3,15.8,16.5,16.5,15.9,16,14.8,14.8,14.2,12.9,12.2,13.1,12,12.1,14.8,14.5,15.8,15.2,14.5,13.7,12.9,13.8,14.8,13.7,12.2,13,13.1,13.7,14.6,15,14.8,12.9,11,10.9,13.2,11.6,11.7,11.1,11.8,11.3,11.9,12.4,13.1,13.8,14.2,13.5];

const tpT=[0,1.9,3.7,5.8,9.1,10.9,13.9,22.8,24,27,29,32.2,37,39.1,41.1,44,45.9,51.1,59.3,62,67.1,69,70.1,71.9,74.1,76.7,82.7,84.9,86.9,89,89.9,92.1,93.5,97.8,100.2,103.2,105,111,115.8,118.2,120,121,123,124.8,126,128.4,130.2,133.8,138,139,141,142.8,144,147,148.9,151,152,156.1,157,159.1,160.9,161.8,164];
const tpV=[0.23,0.26,0.285,0.29,0.288,0.335,0.275,0.25,0.272,0.266,0.285,0.31,0.345,0.32,0.372,0.275,0.245,0.3,0.35,0.36,0.352,0.322,0.325,0.283,0.27,0.282,0.267,0.27,0.26,0.285,0.27,0.29,0.408,0.38,0.35,0.275,0.245,0.305,0.325,0.292,0.224,0.265,0.23,0.227,0.255,0.262,0.25,0.355,0.322,0.342,0.31,0.303,0.338,0.316,0.305,0.287,0.32,0.318,0.367,0.35,0.326,0.365,0.275];

// ---------------- DRAWING ----------------
const NS='http://www.w3.org/2000/svg';
const svg=document.getElementById('chart');
const defs=document.getElementById('defs');
function mk(tag,parent,attrs){const e=document.createElementNS(NS,tag);for(const k in attrs)e.setAttribute(k,attrs[k]);parent.appendChild(e);return e;}
function fmtNum(v,dec){const s=Math.abs(v).toFixed(dec);return (v<0?'\u2212':'')+s;}

function panel(name,L,T,R,B,xmin,xmax,ymin,ymax){
  const g=mk('g',svg,{});
  
  
  const cp=mk('clipPath',defs,{id:name+'-clip'});
  mk('rect',cp,{x:L,y:T,width:R-L,height:B-T});
  const plot=mk('g',g,{'clip-path':'url(#'+name+'-clip)'});
  
  
  return {g,plot,L,T,R,B,sx:v=>L+(v-xmin)/(xmax-xmin)*(R-L),sy:v=>B-(v-ymin)/(ymax-ymin)*(B-T)};
}
function frame(p){
  const r=mk('rect',p.g,{x:p.L,y:p.T,width:p.R-p.L,height:p.B-p.T,fill:'none',stroke:'#000','stroke-width':2});
  
  
}
function yTicks(p,vals,labels,size){
  const g=mk('g',p.g,{});
  
  
  vals.forEach((v,i)=>{const y=p.sy(v);
    mk('line',g,{x1:p.L,x2:p.L+8,y1:y,y2:y,stroke:'#000','stroke-width':1});
    mk('line',g,{x1:p.R-8,x2:p.R,y1:y,y2:y,stroke:'#000','stroke-width':1});
    const t=mk('text',g,{x:p.L-7,y:y+5,'text-anchor':'end','font-size':size||14});
    t.textContent=labels[i];
    
    });
}
function xTicks(p,vals,labels,size,dy){
  const g=mk('g',p.g,{});
  
  
  vals.forEach((v,i)=>{const x=p.sx(v);
    mk('line',g,{x1:x,x2:x,y1:p.B,y2:p.B-8,stroke:'#000','stroke-width':1});
    mk('line',g,{x1:x,x2:x,y1:p.T,y2:p.T+8,stroke:'#000','stroke-width':1});
    const t=mk('text',g,{x:x,y:p.B+(dy||23),'text-anchor':'middle','font-size':size||14});
    t.textContent=labels[i];
    
    });
}
function title(p,s,name){
  const t=mk('text',p.g,{x:(p.L+p.R)/2,y:p.T-11,'text-anchor':'middle','font-size':20});
  t.textContent=s;
  
  
  return t;
}
function ylabel(p,s,x,name){
  const y=(p.T+p.B)/2;
  const t=mk('text',p.g,{x:x,y:y,'text-anchor':'middle','font-size':15,transform:'rotate(-90 '+x+' '+y+')'});
  t.textContent=s;
  
  
  return t;
}
function xlabel(p,s,dy,name){
  const t=mk('text',p.g,{x:(p.L+p.R)/2,y:p.B+dy,'text-anchor':'middle','font-size':15});
  t.textContent=s;
  
  
  return t;
}
function line(p,xs,ys,color,name,w){
  const pts=xs.map((x,i)=>p.sx(x).toFixed(1)+','+p.sy(ys[i]).toFixed(1)).join(' ');
  const l=mk('polyline',p.plot,{points:pts,fill:'none',stroke:color,'stroke-width':w||2,'stroke-linejoin':'round'});
  
  
  return l;
}
function dots(p,xs,ys,color,r,name,stroke){
  const g=mk('g',p.plot,{});
  
  
  xs.forEach((x,i)=>{mk('circle',g,{cx:p.sx(x).toFixed(1),cy:p.sy(ys[i]).toFixed(1),r:r,fill:color,stroke:stroke||'none','stroke-width':1});});
}
function tris(p,xs,ys,color,name){
  const g=mk('g',p.plot,{});
  
  
  xs.forEach((x,i)=>{const cx=p.sx(x),cy=p.sy(ys[i]);
    mk('polygon',g,{points:(cx)+','+(cy-7.5)+' '+(cx-7)+','+(cy+5.5)+' '+(cx+7)+','+(cy+5.5),fill:color,stroke:'#000','stroke-width':1});});
}
function legend(p,x,y,w,entries,name){
  const g=mk('g',p.g,{});
  
  
  const h=entries.length*22+8;
  mk('rect',g,{x:x,y:y,width:w,height:h,fill:'#fff',stroke:'#000','stroke-width':2});
  entries.forEach((e,i)=>{const yy=y+15+i*22;
    const ent=mk('g',g,{});
    
    
    mk('line',ent,{x1:x+9,x2:x+31,y1:yy,y2:yy,stroke:e[1],'stroke-width':2});
    const t=mk('text',ent,{x:x+47,y:yy+5,'font-size':14});
    t.textContent=e[0];});
}

const rowT1=83,rowB1=538,rowT2=662,rowB2=1117;
const cols=[[117,571],[674,1129],[1231,1685]];

(function(){
  const p=panel('transverse-pressure',cols[0][0],rowT1,cols[0][1],rowB1,-6,1,0,0.14);
  line(p,pt1A,pt1P,'#ff0000','pt-first-half-line',2);
  line(p,pt2A,pt2P,'#0000ff','pt-second-half-line',2);
  dots(p,pt1A,pt1P,'#ff0000',7,'pt-first-half-markers','#000');
  tris(p,pt2A,pt2P,'#0000ff','pt-second-half-markers');
  const yv=[0,0.015,0.03,0.045,0.06,0.075,0.09,0.105,0.12,0.135];
  yTicks(p,yv,yv.map(v=>v.toFixed(3)));
  const xv=[-6,-5,-4,-3,-2,-1,0,1];
  xTicks(p,xv,xv.map(v=>fmtNum(v,0)));
  frame(p);
  title(p,'Transverse pressure');
  ylabel(p,'Pt(nPa)',40);
  xlabel(p,'A(T\u00b7m)',50);
  const g=mk('g',p.g,{});
  
  
  mk('rect',g,{x:269,y:91,width:150,height:49,fill:'#fff',stroke:'#000','stroke-width':2});
  mk('line',g,{x1:280,x2:300,y1:104,y2:104,stroke:'#f00','stroke-width':2});
  mk('circle',g,{cx:280,cy:104,r:6,fill:'#f00',stroke:'#000'});
  mk('circle',g,{cx:300,cy:104,r:6,fill:'#f00',stroke:'#000'});
  mk('line',g,{x1:280,x2:300,y1:127,y2:127,stroke:'#00f','stroke-width':2});
  mk('polygon',g,{points:'280,120 274,131 286,131',fill:'#00f',stroke:'#000'});
  mk('polygon',g,{points:'300,120 294,131 306,131',fill:'#00f',stroke:'#000'});
  const t1=mk('text',g,{x:315,y:109,'font-size':14});t1.textContent='1st half path';
  const t2=mk('text',g,{x:315,y:132,'font-size':14});t2.textContent='2nd half path';
})();

function hodo(name,c,T,B,xmin,xmax,xs,ys,tt,xl,yl,xticks){
  const p=panel(name,c[0],T,c[1],B,xmin,xmax,-15,15);
  line(p,xs,ys,'#0000ff',name+'-path',2);
  dots(p,xs,ys,'#0000ff',3.6,name+'-points');
  const yv=[-15,-10,-5,0,5,10,15];
  yTicks(p,yv,yv.map(v=>fmtNum(v,0)));
  xTicks(p,xticks,xticks.map(v=>fmtNum(v,0)));
  frame(p);
  title(p,tt);
  ylabel(p,yl,c[0]-64);
  xlabel(p,xl,T===rowT1?50:48);
  return p;
}
hodo('hodogram-b2-b1',cols[1],rowT1,rowB1,-17.5,12.5,h1B2,h1B1,'Hodogram(B2_B1 MVAB frame)','B2(nT)','B1(nT)',[-15,-10,-5,0,5,10]);
hodo('hodogram-b3-b1',cols[2],rowT1,rowB1,-12.5,17.5,h3B3,h3B1,'Hodogram(B3_B1 MVAB frame)','B3(nT)','B1(nT)',[-10,-5,0,5,10,15]);

(function(){
  const p=panel('walen-test',cols[0][0],rowT2,cols[0][1],rowB2,-75.5,114.2,-75.5,114.2);
  dots(p,walRedX,walRedY,'#ff0000',6,'walen-red-points');
  dots(p,walGreenX,walGreenY,'#008000',6,'walen-green-points');
  dots(p,walBlueX,walBlueY,'#0000ff',6,'walen-blue-points');
  const fx=[-75.5,114.2];
  const fl=mk('line',p.plot,{x1:p.sx(fx[0]),y1:p.sy(walSlope*fx[0]+walIntercept),x2:p.sx(fx[1]),y2:p.sy(walSlope*fx[1]+walIntercept),stroke:'#000','stroke-width':2,'stroke-dasharray':'10,6'});
  
  
  const yv=[-50,0,50,100];
  yTicks(p,yv,yv.map(v=>fmtNum(v,0)));
  xTicks(p,yv,yv.map(v=>fmtNum(v,0)));
  frame(p);
  title(p,'WalenTest');
  const yl=ylabel(p,'',48);
  yl.innerHTML='V<tspan font-size="10" font-style="italic" dy="4">remaining</tspan><tspan dy="-4">(km/s)</tspan>';
  const xl=xlabel(p,'',46);
  xl.innerHTML='V<tspan font-size="10" font-style="italic" dy="4">A</tspan><tspan dy="-4">(km/s)</tspan>';
  const g=mk('g',p.g,{});
  
  
  mk('rect',g,{x:125,y:669,width:138,height:50,fill:'#fff',stroke:'#000','stroke-width':2});
  const a=mk('text',g,{x:129,y:689,'font-size':15});a.textContent='slope = '+walSlope.toFixed(3);
  const b=mk('text',g,{x:129,y:712,'font-size':15});b.innerHTML='<tspan font-style="italic" font-family="Liberation Serif">r</tspan> = '+walR.toFixed(3);
})();
hodo('hodogram-bz-by',cols[1],rowT2,rowB2,-10,20,hzBz,hzBy,'Hodogram(Bz_By FR frame)','Bz(nT)','By(nT)',[-10,-5,0,5,10,15,20]);
hodo('hodogram-bx-by',cols[2],rowT2,rowB2,-15,15,hxBx,hxBy,'Hodogram(Bx_By FR frame)','Bx(nT)','By(nT)',[-15,-10,-5,0,5,10,15]);

const TL=117,TR=1684,PH=189;
const tops=[1305,1589,1872,2157,2439,2723,3006];
function tpanel(name,i,ymin,ymax,ttl,yvals,ylabels,yl){
  const p=panel(name,TL,tops[i],TR,tops[i]+PH,0,164,ymin,ymax);
  p.finish=function(){
    yTicks(p,yvals,ylabels);
    xTicks(p,tTicks,tLabels,14,23);
    frame(p);
    p.ttl=title(p,ttl);
    p.yl=ylabel(p,yl,52);
  };
  return p;
}
function zero(p){const l=mk('line',p.plot,{x1:p.L,x2:p.R,y1:p.sy(0),y2:p.sy(0),stroke:'#000','stroke-width':1.2,'stroke-dasharray':'9,6'});
  
  }
const bTicks=[-15,-10,-5,0,5,10,15,20];
const bLabels=bTicks.map(v=>fmtNum(v,0));

(function(){
  const p=tpanel('magnetic-field-gse',0,-15,20,'Magnetic Field (GSE Frame)',bTicks,bLabels,'B(nT)');
  zero(p);
  line(p,gseBxT,gseBxV,'#ff0000','bx-gse-line');
  line(p,gseByT,gseByV,'#008000','by-gse-line');
  line(p,gseBzT,gseBzV,'#0000ff','bz-gse-line');
  p.finish();
  legend(p,1605,1312,71,[['Bx','#ff0000'],['By','#008000'],['Bz','#0000ff']],'gse-field-legend');
})();
(function(){
  const p=tpanel('magnetic-field-flux-rope',1,-15,20,'Magnetic Field (Flux Rope Frame)',bTicks,bLabels,'B(nT)');
  zero(p);
  line(p,frBxT,frBxV,'#ff0000','bx-fr-line');
  line(p,frByT,frByV,'#008000','by-fr-line');
  line(p,frBzT,frBzV,'#0000ff','bz-fr-line');
  line(p,frBmT,frBmV,'#000000','bmag-fr-line');
  p.finish();
  legend(p,1603,1596,73,[["Bx'",'#ff0000'],["By'",'#008000'],["Bz'",'#0000ff'],['|B|','#000000']],'fr-field-legend');
})();
(function(){
  const p=tpanel('pitch-angle-distribution',2,0,180,'Suprathermal Electrons Pitch Angle Distribution (96.71eV)',[0,60,120,180],['0','60','120','180'],'pitch angle (deg)');
  p.finish();
  const g=mk('g',svg,{});
  
  
  const T=tops[2];
  mk('rect',g,{x:1692,y:T,width:9,height:PH,fill:'url(#jet)',stroke:'#000','stroke-width':1.5});
  const exps=['-26','-27','-28','-29','-30','-31'];
  exps.forEach((e,i)=>{const y=T+i*PH/5;
    mk('line',g,{x1:1692,x2:1701,y1:y,y2:y,stroke:'#000','stroke-width':1});
    const t=mk('text',g,{x:1711,y:y+7,'font-size':15});
    t.innerHTML='10<tspan font-size="10" dy="-8">'+e+'</tspan>';
    
    
    if(i<5){for(let k=1;k<5;k++){const yy=y+k*PH/25;mk('line',g,{x1:1692,x2:1696,y1:yy,y2:yy,stroke:'#000','stroke-width':0.8});mk('line',g,{x1:1697,x2:1701,y1:yy,y2:yy,stroke:'#000','stroke-width':0.8});}}
  });
})();
(function(){
  const yv=[-500,-400,-300,-200,-100,0,100];
  const p=tpanel('solar-wind-velocity',3,-500,100,'Solar Wind Velocity (GSE Frame)',yv,yv.map(v=>fmtNum(v,0)),'Vsw(km/s)');
  line(p,vxT,vxV,'#ff0000','vx-line');
  line(p,vyT,vyV,'#008000','vy-line');
  line(p,vzT,vzV,'#0000ff','vz-line');
  p.finish();
  legend(p,1606,2164,71,[['Vx','#ff0000'],['Vy','#008000'],['Vz','#0000ff']],'velocity-legend');
})();
(function(){
  const yv=[0,1,2,3,4,5];
  const p=tpanel('plasma-beta',4,0,5,'Plasma Beta',yv,yv.map(String),'');
  line(p,betaT,betaV,'#0000ff','beta-p-line');
  p.finish();
  p.yl.innerHTML='<tspan font-style="italic" font-family="Liberation Serif">\u03b2</tspan><tspan font-size="9" font-style="italic" dy="3">p</tspan><tspan dy="-3"> and </tspan><tspan font-style="italic" font-family="Liberation Serif">\u03b2</tspan>';
  const g=mk('g',p.g,{});
  
  
  mk('rect',g,{x:1610,y:2446,width:68,height:31,fill:'#fff',stroke:'#000','stroke-width':2});
  mk('line',g,{x1:1620,x2:1642,y1:2461,y2:2461,stroke:'#00f','stroke-width':2});
  const t=mk('text',g,{x:1657,y:2466,'font-size':13,'font-style':'italic','font-family':'Liberation Serif'});
  t.innerHTML='\u03b2<tspan font-size="9" dy="3">p</tspan>';
})();
(function(){
  const yv=[0,5,10,15,20,25,30];
  const p=tpanel('proton-density',5,0,30,'Proton Number Density',yv,yv.map(String),'Np(#/cc)');
  line(p,npT,npV,'#0000ff','np-line');
  p.finish();
})();
(function(){
  const yv=[0,0.1,0.2,0.3,0.4,0.5];
  const p=tpanel('proton-temperature',6,0,0.5,'',yv,yv.map(v=>v.toFixed(1)),'');
  line(p,tpT,tpV,'#0000ff','tp-line');
  p.finish();
  p.ttl.innerHTML='Proton Temperature and <tspan font-style="italic" font-family="Liberation Serif">T</tspan><tspan font-size="11" font-style="italic" dy="4">e</tspan><tspan dy="-4" font-family="Liberation Serif" font-style="italic">/T</tspan><tspan font-size="11" font-style="italic" dy="4">p</tspan>';
  p.yl.innerHTML='Tp(10<tspan font-size="9" dy="-6">6</tspan><tspan dy="6">K)</tspan>';
  legend(p,124,3013,71,[['Tp','#0000ff']],'tp-legend');
})();
</script>
</body></html>
